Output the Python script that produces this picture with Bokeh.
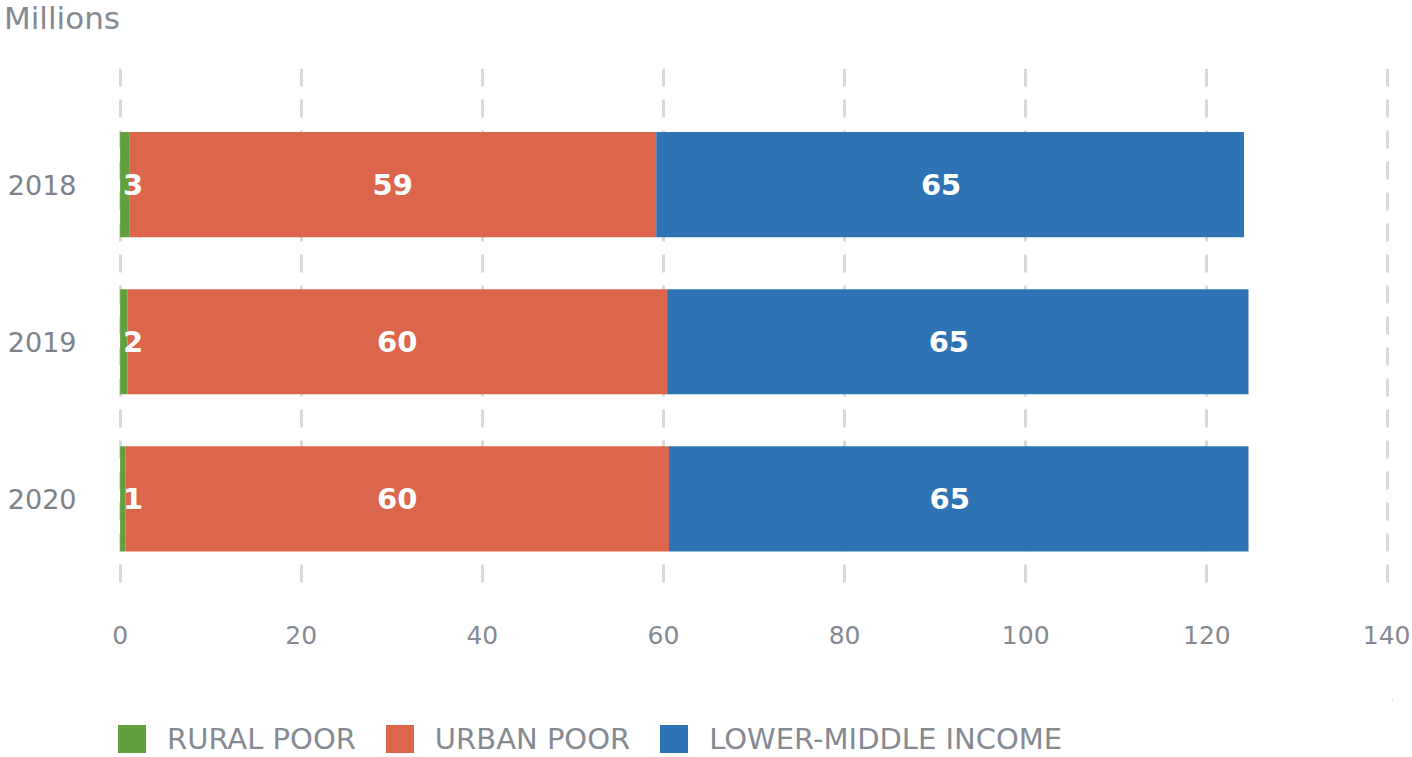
from bokeh.plotting import figure
from bokeh.models import ColumnDataSource, Range1d, FixedTicker, Legend, LegendItem, Div
from bokeh.layouts import column
from bokeh.core.properties import value
from bokeh.embed import file_html
from bokeh.resources import INLINE

# ---- data ----
years = ["2018", "2019", "2020"]
rural_poor = [1.0, 0.8, 0.6]
urban_poor = [58.2, 59.6, 60.0]
lower_middle = [64.9, 64.2, 64.0]
rural_labels = ["3", "2", "1"]
urban_labels = ["59", "60", "60"]
lower_labels = ["65", "65", "65"]
series_names = ["RURAL POOR", "URBAN POOR", "LOWER-MIDDLE INCOME"]
series_colors = ["#5fa03c", "#dc664b", "#2e74b5"]
x_ticks = [0, 20, 40, 60, 80, 100, 120, 140]
unit_label = "Millions"

FONT = "DejaVu Sans"
GREY = "#858a92"
W = 1410

ypos = list(range(len(years)))
r_end = rural_poor
u_end = [a + b for a, b in zip(rural_poor, urban_poor)]
l_end = [a + b for a, b in zip(u_end, lower_middle)]

src = ColumnDataSource(dict(
    y=ypos,
    r0=[0] * len(years), r1=r_end,
    u0=r_end, u1=u_end,
    l0=u_end, l1=l_end,
    u_mid=[(a + b) / 2 for a, b in zip(r_end, u_end)],
    l_mid=[(a + b) / 2 for a, b in zip(u_end, l_end)],
    zero=[0] * len(years),
    rl=rural_labels, ul=urban_labels, ll=lower_labels,
))
stack_cols = [("r0", "r1"), ("u0", "u1"), ("l0", "l1")]

# ---- title as a div ----
head = Div(text=unit_label, width=400, height=38,
           styles={"font-family": FONT, "font-size": "31px", "color": GREY,
                   "line-height": "36px", "padding-left": "4px", "margin": "0"})

# ---- main chart ----
p = figure(width=W, height=662, output_backend="svg", toolbar_location=None,
           x_range=Range1d(-0.4, 140.5), y_range=Range1d(2.551, -0.739),
           min_border_left=116, min_border_right=18, min_border_top=30,
           min_border_bottom=115)

p.outline_line_color = None
p.background_fill_color = "white"
p.border_fill_color = "white"

p.xgrid.ticker = FixedTicker(ticks=x_ticks)
p.xgrid.grid_line_color = "#d9d9d9"
p.xgrid.grid_line_width = 3
p.xgrid.grid_line_dash = "18 13"
p.ygrid.grid_line_color = None

p.xaxis.ticker = FixedTicker(ticks=x_ticks)
p.xaxis.axis_line_color = None
p.xaxis.major_tick_line_color = None
p.xaxis.minor_tick_line_color = None
p.xaxis.major_label_text_font = FONT
p.xaxis.major_label_text_font_size = "25px"
p.xaxis.major_label_text_color = GREY
p.xaxis.major_label_standoff = 34

p.yaxis.ticker = FixedTicker(ticks=ypos)
p.yaxis.major_label_overrides = {i: y for i, y in zip(ypos, years)}
p.yaxis.axis_line_color = None
p.yaxis.major_tick_line_color = None
p.yaxis.minor_tick_line_color = None
p.yaxis.major_label_text_font = FONT
p.yaxis.major_label_text_font_size = "27px"
p.yaxis.major_label_text_color = "#7d828a"
p.yaxis.major_label_standoff = 34

H = 0.669
for (c0, c1), col in zip(stack_cols, series_colors):
    p.hbar(y="y", left=c0, right=c1, height=H, source=src,
           fill_color=col, line_color=None)

common = dict(source=src, text_color="white", text_font=value(FONT),
              text_font_style="bold", text_font_size="29px", text_baseline="middle")
p.text(x="zero", y="y", text="rl", text_align="left", x_offset=3, **common)
p.text(x="u_mid", y="y", text="ul", text_align="center", **common)
p.text(x="l_mid", y="y", text="ll", text_align="center", x_offset=-9, **common)

# ---- legend strip (its bars lie outside its visible range; only the legend shows) ----
lg = figure(width=W, height=57, output_backend="svg", toolbar_location=None,
            x_range=Range1d(-2, -1), y_range=Range1d(-2, -1),
            min_border_left=0, min_border_right=0, min_border_top=0, min_border_bottom=0,
            x_axis_location=None, y_axis_location=None)
lg.outline_line_color = None
lg.xgrid.visible = False
lg.ygrid.visible = False
items = []
for name, (c0, c1), col in zip(series_names, stack_cols, series_colors):
    r = lg.hbar(y="y", left=c0, right=c1, height=H, source=src,
                fill_color=col, line_color=None)
    items.append(LegendItem(label=name, renderers=[r]))
legend = Legend(items=items, location=(-2, 1), orientation="horizontal")
legend.glyph_width = 35
legend.glyph_height = 35
legend.label_height = 35
legend.label_text_font = FONT
legend.label_text_font_size = "29px"
legend.label_text_color = GREY
legend.label_text_baseline = "middle"
legend.label_standoff = 18
legend.spacing = 26
legend.padding = 0
legend.margin = 0
legend.border_line_color = None
legend.background_fill_alpha = 0
lg.add_layout(legend, "center")

layout = column(head, p, lg, spacing=0)
open("out.html", "w").write(file_html(layout, INLINE))
